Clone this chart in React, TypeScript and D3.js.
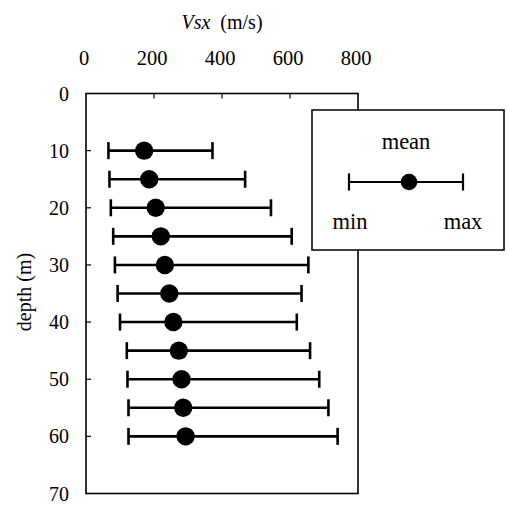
import React from "react";
import * as d3 from "d3";

const depths = [10, 15, 20, 25, 30, 35, 40, 45, 50, 55, 60];
const meanV = [171, 186, 205, 220, 232, 245, 257, 273, 281, 286, 293];
const minV = [66, 69, 73, 80, 85, 93, 100, 120, 122, 125, 125];
const maxV = [372, 468, 544, 605, 654, 634, 620, 659, 686, 713, 740];
const xTicks = [0, 200, 400, 600, 800];
const yTicks = [0, 10, 20, 30, 40, 50, 60, 70];

const W = 507;
const H = 507;
const FONT = "Liberation Serif, Times New Roman, Times, DejaVu Serif, serif";

export default function App() {
  const x = d3.scaleLinear().domain([0, 800]).range([86, 358]);
  const y = d3.scaleLinear().domain([0, 70]).range([93.5, 493.5]);
  const capH = 8.5;

  const lx0 = 349, lx1 = 463, lxm = 409, ly = 182;
  const ts = { fontFamily: FONT };

  return (
    <svg
      width={W}
      height={H}
      style={{ position: "absolute", left: 0, top: 0, background: "#fff", fontFamily: FONT }}
    >
      <rect x={0} y={0} width={W} height={H} fill="#fff" />
      {/* title */}
      <text x={222} y={29} fontSize={20} textAnchor="middle" fill="#000" style={ts}>
        <tspan fontStyle="italic">Vsx</tspan>
        <tspan dx={10}>(m/s)</tspan>
      </text>
      {/* x tick labels */}
      {xTicks.map((t) => (
        <text key={t} x={x(t) - 2} y={65} fontSize={20.5} textAnchor="middle" fill="#000" style={ts}>
          {t}
        </text>
      ))}
      {/* y tick labels */}
      {yTicks.map((t) => (
        <text key={t} x={69} y={y(t) + 7} fontSize={20} textAnchor="end" fill="#000" style={ts}>
          {t}
        </text>
      ))}
      {/* y axis title */}
      <text
        transform={`translate(31,292) rotate(-90)`}
        fontSize={20}
        textAnchor="middle"
        fill="#000"
        style={ts}
      >
        depth (m)
      </text>
      {/* frame */}
      <rect
        x={x(0)}
        y={y(0)}
        width={x(800) - x(0)}
        height={y(70) - y(0)}
        fill="none"
        stroke="#000"
        strokeWidth={1.6}
      />
      {/* top ticks */}
      {xTicks.slice(1, -1).map((t) => (
        <line key={t} x1={x(t)} x2={x(t)} y1={y(0)} y2={y(0) + 5} stroke="#000" strokeWidth={1.2} />
      ))}
      {/* left ticks */}
      {yTicks.slice(1, -1).map((t) => (
        <line key={t} x1={x(0)} x2={x(0) + 5} y1={y(t)} y2={y(t)} stroke="#000" strokeWidth={1.2} />
      ))}
      {/* error bars */}
      {depths.map((d, i) => (
        <g key={d} stroke="#000" strokeWidth={2.6}>
          <line x1={x(minV[i])} x2={x(maxV[i])} y1={y(d)} y2={y(d)} />
          <line x1={x(minV[i])} x2={x(minV[i])} y1={y(d) - capH} y2={y(d) + capH} />
          <line x1={x(maxV[i])} x2={x(maxV[i])} y1={y(d) - capH} y2={y(d) + capH} />
          <circle cx={x(meanV[i])} cy={y(d)} r={9.2} fill="#000" stroke="none" />
        </g>
      ))}
      {/* legend */}
      <rect x={312} y={110} width={192} height={140} fill="#fff" stroke="#000" strokeWidth={1.5} />
      <text x={406} y={149} fontSize={22.5} textAnchor="middle" fill="#000" style={ts}>mean</text>
      <g stroke="#000" strokeWidth={2.2}>
        <line x1={lx0} x2={lx1} y1={ly} y2={ly} />
        <line x1={lx0} x2={lx0} y1={ly - 8.5} y2={ly + 8.5} />
        <line x1={lx1} x2={lx1} y1={ly - 8.5} y2={ly + 8.5} />
        <circle cx={lxm} cy={ly} r={8.3} fill="#000" stroke="none" />
      </g>
      <text x={350} y={229} fontSize={22.5} textAnchor="middle" fill="#000" style={ts}>min</text>
      <text x={463} y={229} fontSize={22.5} textAnchor="middle" fill="#000" style={ts}>max</text>
    </svg>
  );
}
